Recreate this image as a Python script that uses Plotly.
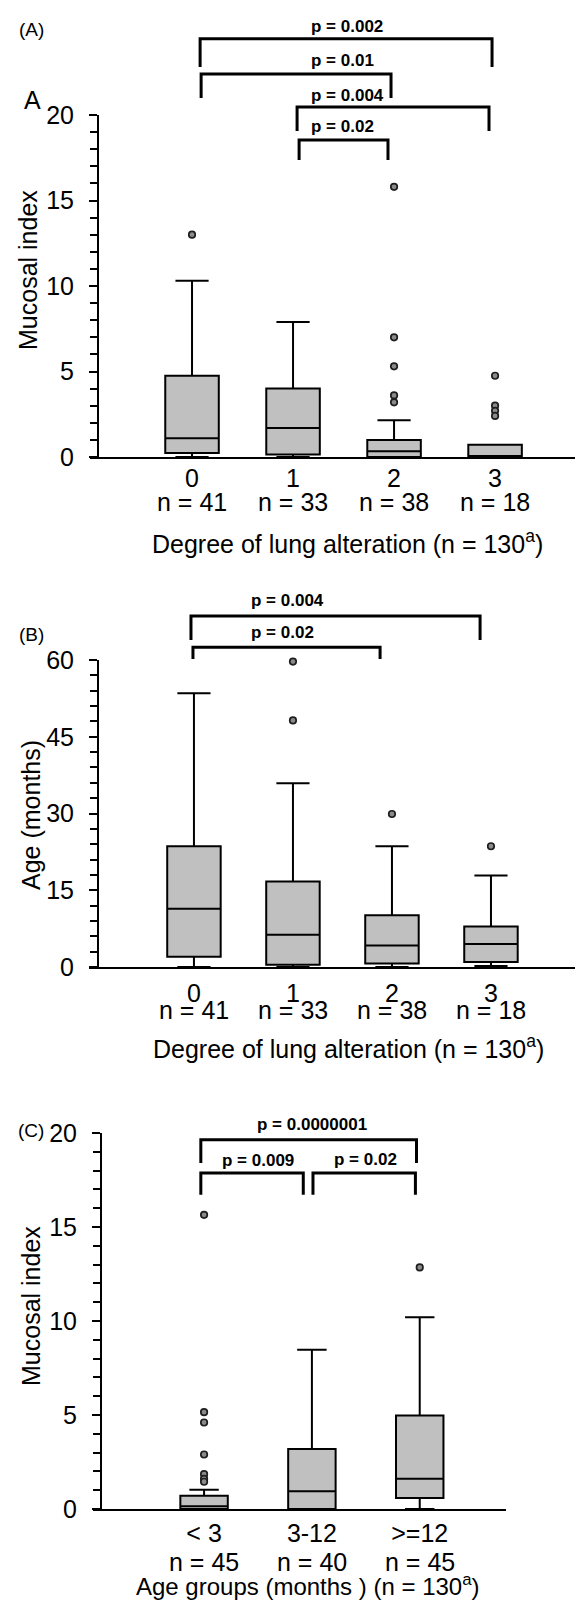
import plotly.graph_objects as go

W, H = 583, 1603

# ---------------- data ----------------
# Panel A: Mucosal index by degree of lung alteration
a_categories = ["0", "1", "2", "3"]
a_counts = ["n = 41", "n = 33", "n = 38", "n = 18"]
a_q1 = [0.23, 0.14, 0.0, 0.0]
a_median = [1.1, 1.7, 0.33, 0.05]
a_q3 = [4.75, 4.0, 1.0, 0.72]
a_lower = [0.0, 0.0, 0.0, 0.0]
a_upper = [10.3, 7.9, 2.15, 0.72]
a_outlier_cat = [0, 2, 2, 2, 2, 2, 3, 3, 3, 3]
a_outlier_val = [13.0, 15.8, 7.0, 5.3, 3.6, 3.2, 4.75, 3.0, 2.7, 2.4]
a_pairs = [(0, 3), (0, 2), (1, 3), (1, 2)]
a_pvalues = ["p = 0.002", "p = 0.01", "p = 0.004", "p = 0.02"]

# Panel B: Age by degree of lung alteration
b_categories = ["0", "1", "2", "3"]
b_counts = ["n = 41", "n = 33", "n = 38", "n = 18"]
b_q1 = [2.0, 0.45, 0.7, 1.0]
b_median = [11.4, 6.3, 4.2, 4.5]
b_q3 = [23.6, 16.7, 10.1, 7.9]
b_lower = [0.0, 0.0, 0.0, 0.2]
b_upper = [53.5, 35.9, 23.6, 17.9]
b_outlier_cat = [1, 1, 2, 3]
b_outlier_val = [59.7, 48.2, 29.9, 23.6]
b_pairs = [(0, 3), (0, 2)]
b_pvalues = ["p = 0.004", "p = 0.02"]

# Panel C: Mucosal index by age group
c_categories = ["< 3", "3-12", ">=12"]
c_counts = ["n = 45", "n = 40", "n = 45"]
c_q1 = [0.0, 0.0, 0.58]
c_median = [0.15, 0.94, 1.61]
c_q3 = [0.71, 3.19, 4.98]
c_lower = [0.0, 0.0, 0.0]
c_upper = [1.03, 8.47, 10.2]
c_outlier_cat = [0, 0, 0, 0, 0, 0, 0, 2]
c_outlier_val = [15.65, 5.15, 4.6, 2.9, 1.85, 1.6, 1.45, 12.85]
c_pairs = [(0, 2), (0, 1), (1, 2)]
c_pvalues = ["p = 0.0000001", "p = 0.009", "p = 0.02"]

# ---------------- styling / layout ----------------
FONT = "Liberation Sans, Arial, sans-serif"
BOX_FILL = "#c0c0c0"
BLACK = "#000000"
FS = 25


def px(v):
    return v / W


def py(v):
    return 1 - v / H


panels = [
    dict(key="", cats=a_categories, counts=a_counts, q1=a_q1, med=a_median, q3=a_q3,
         lo=a_lower, up=a_upper, oc=a_outlier_cat, ov=a_outlier_val,
         pairs=a_pairs, pv=a_pvalues,
         xdom=(82, 580), ydom=(449, 107), yaxpos=90, xr=(-1.01, 3.92), yr=(0, 20),
         dtick=5, minor=1, bw=0.53, xstand=-2,
         levels=[24.46, 22.4, 20.47, 18.54], legs=[22.8, 21.0, 19.06, 17.37],
         ends=[(0.08, -0.03), (0.09, -0.03), (0.04, -0.06), (0.06, -0.06)],
         ptext_y=[25.15, 23.2, 21.15, 19.35], ptext_x=[1.16] * 4, ptext_anchor="left",
         n_y=494, title="Degree of lung alteration (n = 130<sup>a</sup>)",
         title_x=339, title_y=534, title_size=FS,
         ytitle="Mucosal index", ytitle_x=20, ytitle_y=262),
    dict(key="2", cats=b_categories, counts=b_counts, q1=b_q1, med=b_median, q3=b_q3,
         lo=b_lower, up=b_upper, oc=b_outlier_cat, ov=b_outlier_val,
         pairs=b_pairs, pv=b_pvalues,
         xdom=(81, 580), ydom=(959, 652), yaxpos=90, xr=(-1.06, 3.98), yr=(0, 60),
         dtick=15, minor=3, bw=0.54, xstand=3,
         levels=[68.6, 62.5], legs=[63.9, 60.2],
         ends=[(-0.03, -0.11), (-0.01, -0.12)],
         ptext_y=[71.6, 65.3], ptext_x=[0.56] * 2, ptext_anchor="left",
         n_y=1002, title="Degree of lung alteration (n = 130<sup>a</sup>)",
         title_x=340, title_y=1039, title_size=FS,
         ytitle="Age (months)", ytitle_x=23, ytitle_y=807),
    dict(key="3", cats=c_categories, counts=c_counts, q1=c_q1, med=c_median, q3=c_q3,
         lo=c_lower, up=c_upper, oc=c_outlier_cat, ov=c_outlier_val,
         pairs=c_pairs, pv=c_pvalues,
         xdom=(85, 498), ydom=(1501, 1125), yaxpos=93, xr=(-1.03, 2.80), yr=(0, 20),
         dtick=5, minor=1, bw=0.44, xstand=1,
         levels=[19.64, 17.87, 17.87], legs=[18.4, 16.72, 16.72],
         ends=[(-0.03, -0.03), (-0.03, -0.08), (0.01, -0.04)],
         ptext_y=[20.44, 18.55, 18.6], ptext_x=None, ptext_anchor="center",
         n_y=1554, title="Age groups (months ) (n = 130<sup>a</sup>)",
         title_x=300, title_y=1577, title_size=24,
         ytitle="Mucosal index", ytitle_x=23, ytitle_y=1298),
]

fig = go.Figure()
shapes = []
annotations = []
layout = {}

for p in panels:
    k = p["key"]
    xname, yname = "x" + k, "y" + k
    xa_key, ya_key = "xaxis" + k, "yaxis" + k
    positions = list(range(len(p["cats"])))
    y0p, y1p = py(p["ydom"][0]), py(p["ydom"][1])
    rmax = p["yr"][1]

    def ypaper(v, y0p=y0p, y1p=y1p, rmax=rmax):
        return y0p + v / rmax * (y1p - y0p)

    fig.add_trace(go.Box(
        x=positions, q1=p["q1"], median=p["med"], q3=p["q3"],
        lowerfence=p["lo"], upperfence=p["up"],
        xaxis=xname, yaxis=yname, width=p["bw"], whiskerwidth=0.62,
        fillcolor=BOX_FILL, line=dict(color=BLACK, width=2),
        boxpoints=False, hoverinfo="skip"))
    fig.add_trace(go.Scatter(
        x=[positions[i] for i in p["oc"]], y=p["ov"], mode="markers",
        xaxis=xname, yaxis=yname,
        marker=dict(symbol="circle", size=6.5, color="#8a8a8a",
                    line=dict(color="#1e1e1e", width=1.7)),
        cliponaxis=False, hoverinfo="skip"))

    layout[xa_key] = dict(
        domain=[px(p["xdom"][0]), px(p["xdom"][1])], range=list(p["xr"]),
        anchor=yname, showline=True, linecolor=BLACK, linewidth=2,
        showgrid=False, zeroline=False, ticks="",
        tickmode="array", tickvals=positions, ticktext=p["cats"],
        tickfont=dict(family=FONT, size=FS, color=BLACK),
        ticklabelstandoff=p["xstand"], automargin=False, fixedrange=True)
    layout[ya_key] = dict(
        domain=[y0p, y1p], range=list(p["yr"]), anchor="free",
        position=px(p["yaxpos"]), showline=True, linecolor=BLACK, linewidth=2,
        showgrid=False, zeroline=False, ticks="outside", ticklen=8, tickwidth=2,
        tickcolor=BLACK, dtick=p["dtick"], tick0=0,
        minor=dict(dtick=p["minor"], tick0=0, ticks="outside", ticklen=7,
                   tickwidth=1.5, tickcolor=BLACK),
        tickfont=dict(family=FONT, size=FS, color=BLACK),
        ticklabelstandoff=10, automargin=False, fixedrange=True)

    # significance brackets
    for i, (a, b) in enumerate(p["pairs"]):
        xa = a + p["ends"][i][0]
        xb = b + p["ends"][i][1]
        yl = ypaper(p["levels"][i])
        yg = ypaper(p["legs"][i])
        shapes.append(dict(
            type="path", xref=xname, yref="paper",
            path=f"M {xa},{yg} L {xa},{yl} L {xb},{yl} L {xb},{yg}",
            line=dict(color=BLACK, width=3)))
        tx = (a + b) / 2 if p["ptext_x"] is None else p["ptext_x"][i]
        annotations.append(dict(
            x=tx, xref=xname, y=ypaper(p["ptext_y"][i]), yref="paper",
            text="<b>" + p["pv"][i] + "</b>", showarrow=False,
            xanchor=p["ptext_anchor"], yanchor="middle",
            font=dict(family=FONT, size=17, color=BLACK)))

    # n = ... row under category labels
    for i, c in enumerate(p["counts"]):
        annotations.append(dict(
            x=positions[i], xref=xname, y=py(p["n_y"]), yref="paper",
            text=c, showarrow=False, xanchor="center", yanchor="middle",
            font=dict(family=FONT, size=FS, color=BLACK)))

    # x title
    annotations.append(dict(
        x=px(p["title_x"]), xref="paper", y=py(p["title_y"]), yref="paper",
        text=p["title"], showarrow=False, xanchor="center", yanchor="middle",
        font=dict(family=FONT, size=p["title_size"], color=BLACK)))
    # y title
    annotations.append(dict(
        x=px(p["ytitle_x"]), xref="paper", y=py(p["ytitle_y"]), yref="paper",
        text=p["ytitle"], textangle=-90, showarrow=False,
        xanchor="center", yanchor="middle",
        font=dict(family=FONT, size=FS, color=BLACK)))

# panel labels
for lab, lx, ly, size in [("(A)", 23, 22, 19), ("A", 24, 92, 25),
                          ("(B)", 23, 626, 19), ("(C)", 23, 1122, 19)]:
    annotations.append(dict(
        x=px(lx), xref="paper", y=py(ly), yref="paper", text=lab,
        showarrow=False, xanchor="center", yanchor="middle",
        font=dict(family=FONT, size=size, color=BLACK)))

fig.update_layout(
    width=W, height=H, margin=dict(l=0, r=0, t=0, b=0),
    paper_bgcolor="white", plot_bgcolor="white", showlegend=False,
    font=dict(family=FONT, color=BLACK),
    shapes=shapes, annotations=annotations, **layout)

fig.write_html("out.html")
